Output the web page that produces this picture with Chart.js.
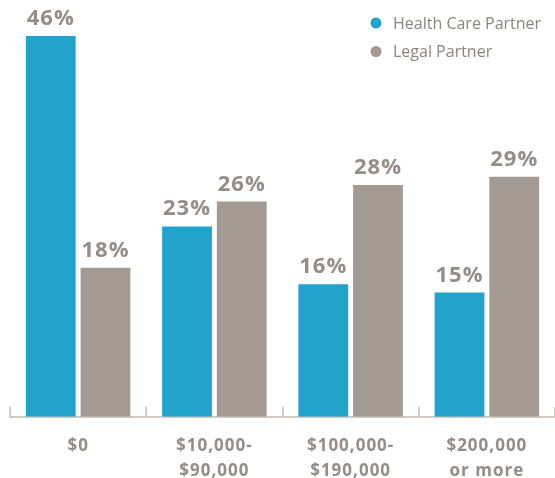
<!DOCTYPE html>
<html>
<head>
<meta charset="utf-8">
<script src="https://cdn.jsdelivr.net/npm/chart.js@4"></script>
<style>
  html, body { margin: 0; padding: 0; background: #fff; }
  #wrap { width: 555px; height: 478px; }
</style>
</head>
<body>
<div id="wrap"><canvas id="incomeChart"></canvas></div>
<script>
const categories = [['$0'], ['$10,000-', '$90,000'], ['$100,000-', '$190,000'], ['$200,000', 'or more']];
const healthCare = [46, 23, 16, 15];
const legal = [18, 26, 28, 29];
const seriesNames = ['Health Care Partner', 'Legal Partner'];

const textGrey = '#958d88';

// spaced lettering for the axis labels (Chart.js leaves letterSpacing alone)
const spacing = {
    id: 'spacing',
    beforeDraw(chart) {
        chart.ctx.letterSpacing = '1px';
    }
};

// value labels above each bar
const barLabels = {
    id: 'barLabels',
    afterDatasetsDraw(chart) {
        const ctx = chart.ctx;
        ctx.save();
        ctx.font = 'bold 22px "Open Sans"';
        ctx.letterSpacing = '1px';
        ctx.fillStyle = textGrey;
        ctx.textAlign = 'center';
        ctx.textBaseline = 'alphabetic';
        chart.data.datasets.forEach(function(ds, i) {
            chart.getDatasetMeta(i).data.forEach(function(bar, j) {
                ctx.fillText(ds.data[j] + '%', bar.x, bar.y - 11);
            });
        });
        ctx.restore();
    }
};

// legend in the top right corner
const cornerLegend = {
    id: 'cornerLegend',
    afterDraw(chart) {
        const ctx = chart.ctx;
        ctx.save();
        ctx.font = '16px "Open Sans"';
        ctx.letterSpacing = '0px';
        ctx.textBaseline = 'middle';
        chart.data.datasets.forEach(function(ds, i) {
            const y = 23 + i * 28.5;
            ctx.fillStyle = ds.backgroundColor;
            ctx.beginPath();
            ctx.arc(376, y, 5.5, 0, Math.PI * 2);
            ctx.fill();
            ctx.fillStyle = '#8c8480';
            ctx.fillText(ds.label, 393, y + 1);
        });
        ctx.restore();
    }
};

new Chart(document.getElementById('incomeChart'), {
    type: 'bar',
    data: {
        labels: categories,
        datasets: [{
            label: seriesNames[0],
            data: healthCare,
            backgroundColor: '#21a3cc',
            categoryPercentage: 0.803,
            barPercentage: 0.91
        }, {
            label: seriesNames[1],
            data: legal,
            backgroundColor: '#a39a94',
            categoryPercentage: 0.803,
            barPercentage: 0.91
        }]
    },
    options: {
        responsive: true,
        maintainAspectRatio: false,
        animation: false,
        layout: {
            padding: { top: 3, left: 10, right: -2, bottom: -32 }
        },
        plugins: {
            legend: { display: false },
            tooltip: { enabled: false }
        },
        scales: {
            x: {
                offset: true,
                grid: {
                    display: true,
                    offset: true,
                    drawOnChartArea: false,
                    drawTicks: true,
                    tickLength: -10,
                    color: '#d0cbc7',
                    lineWidth: 2
                },
                border: {
                    display: true,
                    color: '#d0cbc7',
                    width: 2
                },
                ticks: {
                    color: textGrey,
                    padding: 27,
                    maxRotation: 0,
                    font: { family: '"Open Sans"', size: 17, weight: 'bold', lineHeight: 1.45 }
                }
            },
            y: {
                display: false,
                min: 0,
                max: 50
            }
        }
    },
    plugins: [spacing, barLabels, cornerLegend]
});
</script>
</body>
</html>
